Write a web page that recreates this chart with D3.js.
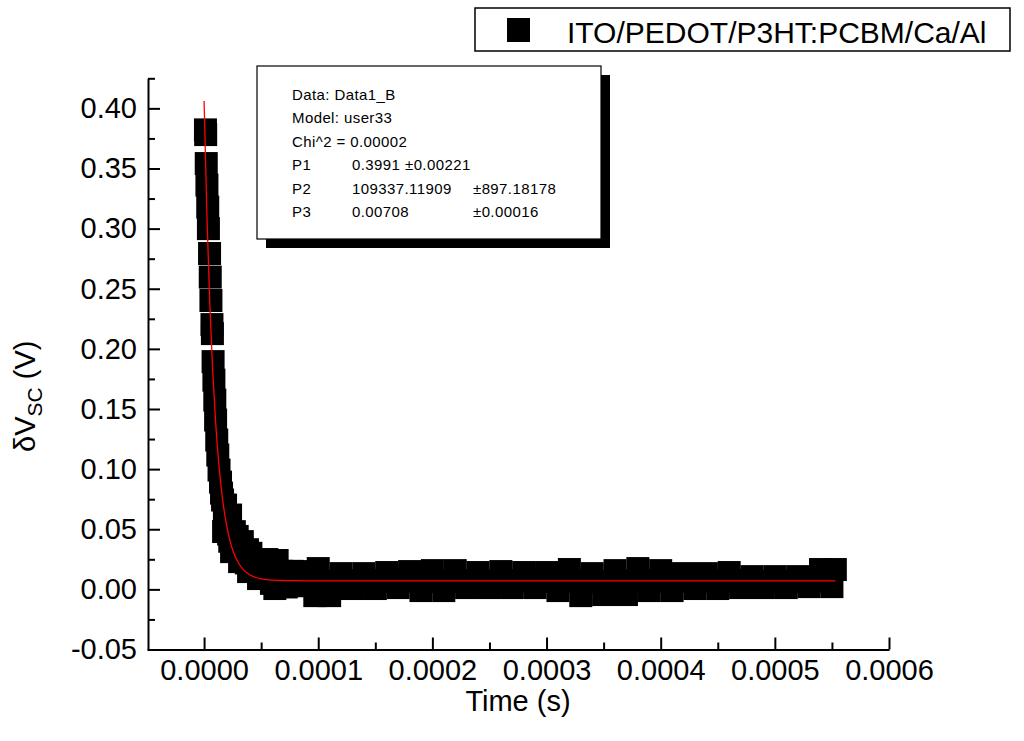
<!DOCTYPE html>
<html>
<head>
<meta charset="utf-8">
<script src="https://cdn.jsdelivr.net/npm/d3@7"></script>
<style>
  body { margin: 0; background: #fff; }
  text { font-family: "Liberation Sans", Arial, sans-serif; fill: #000; }
</style>
</head>
<body>
<div id="chart"></div>
<script>
// measured transient (time in s, signal in V)
let timeS = [
  1.2e-6, 1.4e-6, 1.9e-6, 2.5e-6, 3.2e-6, 3.8e-6, 4.8e-6, 5.4e-6, 6.0e-6, 6.9e-6,
  7.3e-6, 7.9e-6, 8.6e-6, 9.4e-6, 10.1e-6, 11.1e-6, 12.0e-6, 13.1e-6, 14.4e-6, 15.3e-6,
  16.2e-6, 17.1e-6, 17.8e-6, 18.8e-6, 19.5e-6, 20.5e-6, 21.5e-6, 22.5e-6, 23.2e-6, 24.1e-6,
  25e-6, 26.5e-6, 27.5e-6, 29e-6, 30e-6, 31.1e-6, 32e-6, 33.5e-6, 35e-6, 37e-6,
  38e-6, 39e-6, 40e-6, 41e-6, 43e-6, 45e-6, 47.7e-6, 48.5e-6, 50e-6, 52e-6,
  53.5e-6, 55e-6, 57e-6, 59e-6, 60e-6, 62e-6, 64e-6, 66e-6, 68e-6, 70e-6,
  72e-6, 74e-6, 77e-6, 79e-6, 81e-6, 83e-6, 86e-6, 88e-6, 91e-6, 94e-6, 97e-6,
  100e-6, 105e-6, 110e-6, 115e-6, 120e-6, 125e-6, 130e-6, 135e-6, 140e-6, 145e-6,
  150e-6, 155e-6, 160e-6, 165e-6, 170e-6, 175e-6, 180e-6, 185e-6, 190e-6, 195e-6,
  200e-6, 205e-6, 210e-6, 215e-6, 220e-6, 225e-6, 230e-6, 235e-6, 240e-6, 245e-6,
  250e-6, 255e-6, 260e-6, 265e-6, 270e-6, 275e-6, 280e-6, 285e-6, 290e-6, 295e-6,
  300e-6, 305e-6, 310e-6, 315e-6, 320e-6, 325e-6, 330e-6, 335e-6, 340e-6, 345e-6,
  350e-6, 355e-6, 360e-6, 365e-6, 370e-6, 375e-6, 380e-6, 385e-6, 390e-6, 395e-6,
  400e-6, 405e-6, 410e-6, 415e-6, 420e-6, 425e-6, 430e-6, 435e-6, 440e-6, 445e-6,
  450e-6, 455e-6, 460e-6, 465e-6, 470e-6, 475e-6, 480e-6, 485e-6, 490e-6, 495e-6,
  500e-6, 505e-6, 510e-6, 515e-6, 520e-6, 525e-6, 530e-6, 535e-6, 540e-6, 545e-6,
  550e-6, 553e-6
];
let signalV = [
  0.3821, 0.3782, 0.3541, 0.3362, 0.3179, 0.3000, 0.2793, 0.2597, 0.2402, 0.2202,
  0.2127, 0.1894, 0.1740, 0.1574, 0.1408, 0.1242, 0.1117, 0.0992, 0.0892, 0.0800,
  0.0743, 0.0481, 0.0600, 0.0701, 0.0520, 0.0560, 0.0460, 0.0400, 0.0618, 0.0314,
  0.0400, 0.0480, 0.0340, 0.0440, 0.0320, 0.0231, 0.0300, 0.0397, 0.0270, 0.0220,
  0.0330, 0.0148, 0.0200, 0.0300, 0.0200, 0.0160, 0.0090, 0.0170, 0.0180, 0.0120,
  0.0160, 0.0248, 0.0130, 0.0050, 0.0120, 0.0007, 0.0240, 0.0080, 0.0150, 0.0100,
  0.0020, 0.0090, 0.0150, 0.0080, 0.0030, 0.0090, 0.0148, 0.0070, 0.0080, 0.0040, -0.0052,
  0.0173, 0.0070, -0.0052, 0.0065, 0.0131, 0.0072, 0.0007, 0.0068, 0.0131, 0.0075,
  0.0007, 0.0070, 0.0140, 0.0066, 0.0015, 0.0072, 0.0148, 0.0069, -0.0010, 0.0064,
  0.0156, 0.0071, -0.0010, 0.0068, 0.0156, 0.0074, 0.0015, 0.0070, 0.0140, 0.0066,
  0.0015, 0.0071, 0.0148, 0.0073, 0.0015, 0.0069, 0.0140, 0.0072, 0.0015, 0.0070,
  0.0140, 0.0067, -0.0010, 0.0063, 0.0165, 0.0070, -0.0052, 0.0062, 0.0131, 0.0066,
  -0.0043, 0.0064, 0.0156, 0.0070, -0.0043, 0.0068, 0.0173, 0.0074, -0.0010, 0.0069,
  0.0156, 0.0071, -0.0010, 0.0067, 0.0131, 0.0070, 0.0007, 0.0068, 0.0131, 0.0072,
  0.0007, 0.0070, 0.0140, 0.0073, 0.0015, 0.0069, 0.0106, 0.0065, 0.0015, 0.0066,
  0.0106, 0.0068, 0.0015, 0.0064, 0.0106, 0.0067, 0.0023, 0.0070, 0.0165, 0.0072,
  0.0023, 0.0165
];

// fitted curve
let fitT = [0, 2.5e-6, 5e-6, 7.5e-6, 1e-5, 1.25e-5, 1.5e-5, 1.75e-5, 2e-5, 2.25e-5, 2.5e-5,
  3e-5, 3.5e-5, 4e-5, 5e-5, 6e-5, 8e-5, 0.0001, 0.0002, 0.0003, 0.0004, 0.0005, 0.000553];
let fitV = [0.4062, 0.3107, 0.2381, 0.1829, 0.1408, 0.1088, 0.0845, 0.0660, 0.0519, 0.0412, 0.0330,
  0.0221, 0.0158, 0.0121, 0.0088, 0.0077, 0.0072, 0.0071, 0.0071, 0.0071, 0.0071, 0.0071, 0.0071];

let xMajor = [0, 0.0001, 0.0002, 0.0003, 0.0004, 0.0005, 0.0006];
let xMinor = [0.00005, 0.00015, 0.00025, 0.00035, 0.00045, 0.00055];
let yMajor = [-0.05, 0, 0.05, 0.10, 0.15, 0.20, 0.25, 0.30, 0.35, 0.40];
let yMinor = [-0.025, 0.025, 0.075, 0.125, 0.175, 0.225, 0.275, 0.325, 0.375, 0.425];

let fitLines = [
  ["Data: Data1_B"],
  ["Model: user33"],
  ["Chi^2 = 0.00002"],
  ["P1", "0.3991", "\u00b10.00221"],
  ["P2", "109337.11909", "\u00b1897.18178"],
  ["P3", "0.00708", "\u00b10.00016"]
];
let legendLabel = "ITO/PEDOT/P3HT:PCBM/Ca/Al";

let width = 1024, height = 741;
let svg = d3.select("#chart").append("svg")
    .attr("width", width)
    .attr("height", height);

let x = d3.scaleLinear().domain([-0.00005, 0.0006]).range([147, 889]);
let y = d3.scaleLinear().domain([-0.05, 0.425]).range([649.5, 78.3]);

// data markers
let mk = 23;
svg.append("g").selectAll("rect")
    .data(timeS)
    .enter()
    .append("rect")
    .attr("x", (d) => x(d) - mk / 2)
    .attr("y", (d, i) => y(signalV[i]) - mk / 2)
    .attr("width", mk)
    .attr("height", mk)
    .attr("fill", "#000");

// fit
let line = d3.line()
    .x((d) => x(d))
    .y((d, i) => y(fitV[i]))
    .curve(d3.curveMonotoneX);
svg.append("path")
    .datum(fitT)
    .attr("d", line)
    .attr("fill", "none")
    .attr("stroke", "#ff0000")
    .attr("stroke-width", 1.3);

// axes
let xAxis = svg.append("g").attr("transform", "translate(0,649.5)");
xAxis.call(d3.axisBottom(x).tickValues(xMajor).tickSize(-12).tickSizeOuter(0)
    .tickPadding(10).tickFormat((d) => d.toFixed(4)));
xAxis.append("g").call(d3.axisBottom(x).tickValues(xMinor).tickSize(-7).tickSizeOuter(0).tickFormat(""))
    .select(".domain").remove();

let yAxis = svg.append("g").attr("transform", "translate(148,0)");
yAxis.call(d3.axisLeft(y).tickValues(yMajor).tickSize(-12).tickSizeOuter(0)
    .tickPadding(11).tickFormat((d) => d.toFixed(2)));
yAxis.append("g").call(d3.axisLeft(y).tickValues(yMinor).tickSize(-7).tickSizeOuter(0).tickFormat(""))
    .select(".domain").remove();

svg.selectAll(".domain, .tick line").attr("stroke", "#000").attr("stroke-width", 2);
svg.selectAll(".tick text").attr("font-size", 29).attr("font-family", "Liberation Sans, Arial, sans-serif").attr("fill", "#000");

// axis titles
svg.append("text")
    .attr("x", 518).attr("y", 711)
    .attr("text-anchor", "middle")
    .attr("font-size", 29)
    .text("Time (s)");

let yt = svg.append("text")
    .attr("transform", "translate(35,452) rotate(-90)")
    .attr("font-size", 29);
yt.append("tspan").text("\u03b4V");
yt.append("tspan").attr("font-size", 21).attr("dy", 7).text("SC");
yt.append("tspan").attr("dy", -7).text(" (V)");

// fit results box
svg.append("rect").attr("x", 266).attr("y", 75).attr("width", 344).attr("height", 173).attr("fill", "#000");
svg.append("rect").attr("x", 257).attr("y", 66).attr("width", 344).attr("height", 173)
    .attr("fill", "#fff").attr("stroke", "#000").attr("stroke-width", 1.2);
let colX = [292, 352, 405];
fitLines.forEach(function (row, i) {
    row.forEach(function (s, j) {
        let cx = colX[j];
        if (j === 2 && i > 3) cx = 473;
        svg.append("text")
            .attr("x", cx).attr("y", 100 + i * 23.4)
            .attr("font-size", 15)
            .attr("letter-spacing", 0.4)
            .text(s);
    });
});

// legend
svg.append("rect").attr("x", 475).attr("y", 8).attr("width", 535).attr("height", 43)
    .attr("fill", "#fff").attr("stroke", "#000").attr("stroke-width", 1.5);
svg.append("rect").attr("x", 507).attr("y", 18).attr("width", 23).attr("height", 24).attr("fill", "#000");
svg.append("text").attr("x", 567).attr("y", 43).attr("font-size", 30).text(legendLabel);
</script>
</body>
</html>
